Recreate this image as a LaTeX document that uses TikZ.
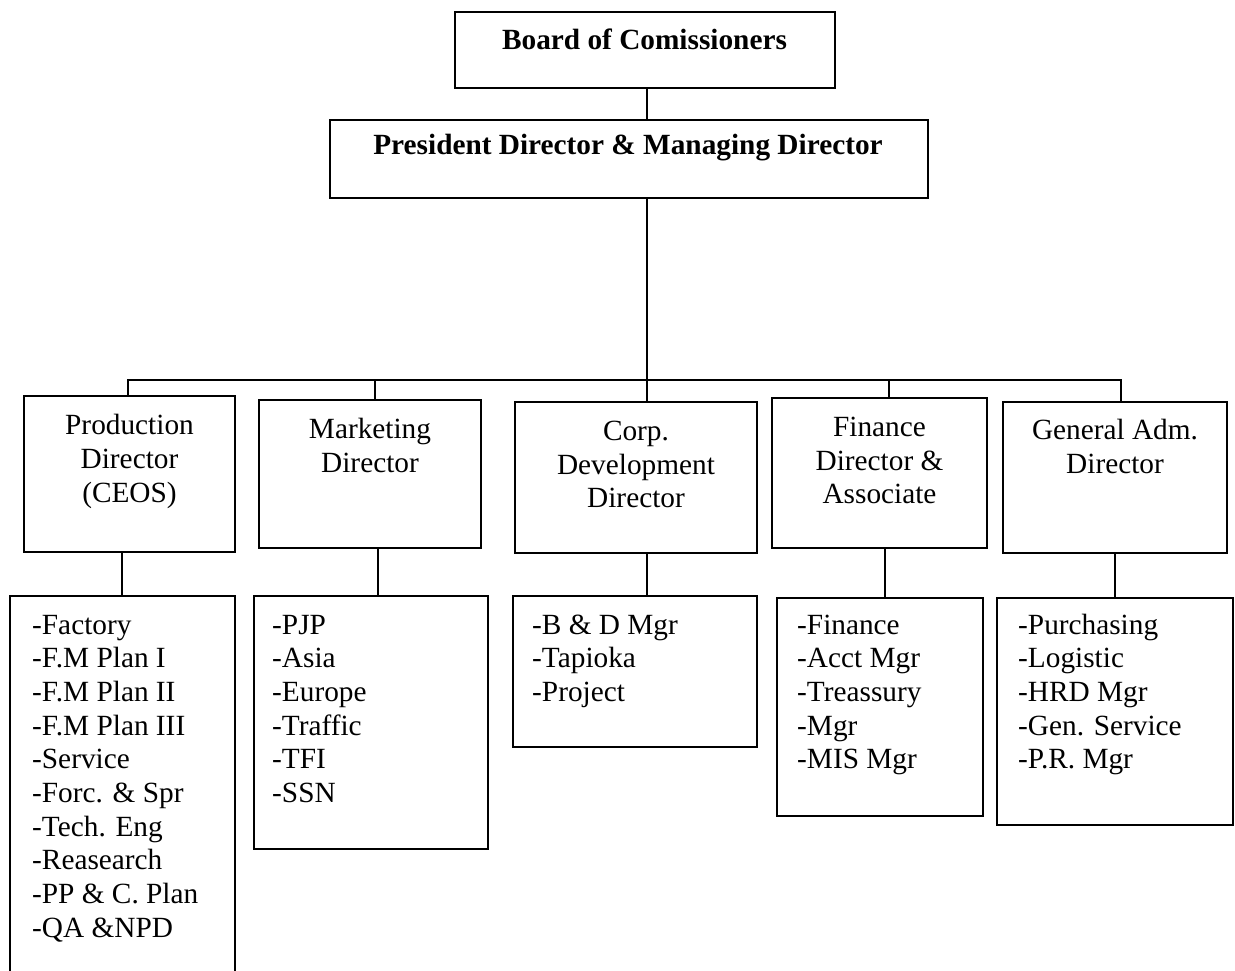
\documentclass[tikz,border=0pt]{standalone}
\usepackage{fontspec}
\setmainfont{Liberation Serif}
\begin{document}
\begin{tikzpicture}[x=1pt,y=-1pt,
  box/.style={draw, line width=1.8pt, rectangle, inner sep=0pt, outer sep=0pt},
  conn/.style={line width=1.8pt},
  txt/.style={font=\fontsize{29.3}{33.7}\selectfont, inner sep=0pt, anchor=base},
  btxt/.style={txt, font=\fontsize{29.3}{33.7}\selectfont\bfseries},
  item/.style={font=\fontsize{29.3}{33.7}\selectfont, inner sep=0pt, anchor=base west}]
\useasboundingbox (0,0) rectangle (1235,971);
\clip (0,0) rectangle (1235,971);
% top boxes
\node[box, minimum width=380pt, minimum height=76pt] (board) at (645,50) {};
\node[box, minimum width=598pt, minimum height=78pt] (pres) at (629,159) {};
\node[btxt] (boardt) at (644.5,50) {Board of Comissioners};
\node[btxt] (prest) at (628,155) {President Director \& Managing Director};
% director boxes
\node[box, minimum width=211pt, minimum height=156pt] (prod) at (129.5,474) {};
\node[box, minimum width=222pt, minimum height=148pt] (mkt) at (370,474) {};
\node[box, minimum width=242pt, minimum height=151pt] (corp) at (636,477.5) {};
\node[box, minimum width=215pt, minimum height=150pt] (fin) at (879.5,473) {};
\node[box, minimum width=224pt, minimum height=151pt] (gen) at (1115,477.5) {};
% list boxes
\node[box, minimum width=225pt, minimum height=404pt] (prodl) at (122.5,798) {};
\node[box, minimum width=234pt, minimum height=253pt] (mktl) at (371,722.5) {};
\node[box, minimum width=244pt, minimum height=151pt] (corpl) at (635,671.5) {};
\node[box, minimum width=206pt, minimum height=218pt] (finl) at (880,707) {};
\node[box, minimum width=236pt, minimum height=227pt] (genl) at (1115,711.5) {};
% director texts
\node[txt] (prod1) at (129.5,434) {Production};
\node[txt] (prod2) at (129.5,468) {Director};
\node[txt] (prod3) at (129.5,502) {(CEOS)};
\node[txt] (mkt1) at (370,438) {Marketing};
\node[txt] (mkt2) at (370,472) {Director};
\node[txt] (corp1) at (636,440) {Corp.};
\node[txt] (corp2) at (636,474) {Development};
\node[txt] (corp3) at (636,507) {Director};
\node[txt] (fin1) at (879.5,436) {Finance};
\node[txt] (fin2) at (879.5,470) {Director \&};
\node[txt] (fin3) at (879.5,503) {Associate};
\node[txt] (gen1) at (1115,439) {General Adm.};
\node[txt] (gen2) at (1115,473) {Director};
% list texts
\foreach \t [count=\i from 0] in {-Factory,-F.M Plan I,-F.M Plan II,-F.M Plan III,-Service,-Forc. \& Spr,-Tech. Eng,-Reasearch,-PP \& C. Plan,-QA \&NPD}
  \node[item] (pi\i) at (32,634+33.7*\i) {\t};
\foreach \t [count=\i from 0] in {-PJP,-Asia,-Europe,-Traffic,-TFI,-SSN}
  \node[item] (mi\i) at (272,634+33.7*\i) {\t};
\foreach \t [count=\i from 0] in {-B \& D Mgr,-Tapioka,-Project}
  \node[item] (ci\i) at (532,634+33.7*\i) {\t};
\foreach \t [count=\i from 0] in {-Finance,-Acct Mgr,-Treassury,-Mgr,-MIS Mgr}
  \node[item] (fi\i) at (797,634+33.7*\i) {\t};
\foreach \t [count=\i from 0] in {-Purchasing,-Logistic,-HRD Mgr,-Gen. Service,-P.R. Mgr}
  \node[item] (gi\i) at (1018,634+33.7*\i) {\t};
% connectors
\coordinate (top) at (647,0);
\draw[conn] (top |- board.south) -- (top |- pres.north);
\coordinate (bus) at (647,380);
\draw[conn] (bus |- pres.south) -- (bus);
\coordinate (d1) at (128,380);
\coordinate (d2) at (375,380);
\coordinate (d3) at (647,380);
\coordinate (d4) at (889,380);
\coordinate (d5) at (1121,380);
\draw[conn, line cap=rect] (d1) -- (d5);
\draw[conn] (d1) -- (d1 |- prod.north);
\draw[conn] (d2) -- (d2 |- mkt.north);
\draw[conn] (d3) -- (d3 |- corp.north);
\draw[conn] (d4) -- (d4 |- fin.north);
\draw[conn] (d5) -- (d5 |- gen.north);
\coordinate (e1) at (122,0);
\coordinate (e2) at (378,0);
\coordinate (e3) at (647,0);
\coordinate (e4) at (885,0);
\coordinate (e5) at (1115,0);
\draw[conn] (e1 |- prod.south) -- (e1 |- prodl.north);
\draw[conn] (e2 |- mkt.south) -- (e2 |- mktl.north);
\draw[conn] (e3 |- corp.south) -- (e3 |- corpl.north);
\draw[conn] (e4 |- fin.south) -- (e4 |- finl.north);
\draw[conn] (e5 |- gen.south) -- (e5 |- genl.north);
\end{tikzpicture}
\end{document}
